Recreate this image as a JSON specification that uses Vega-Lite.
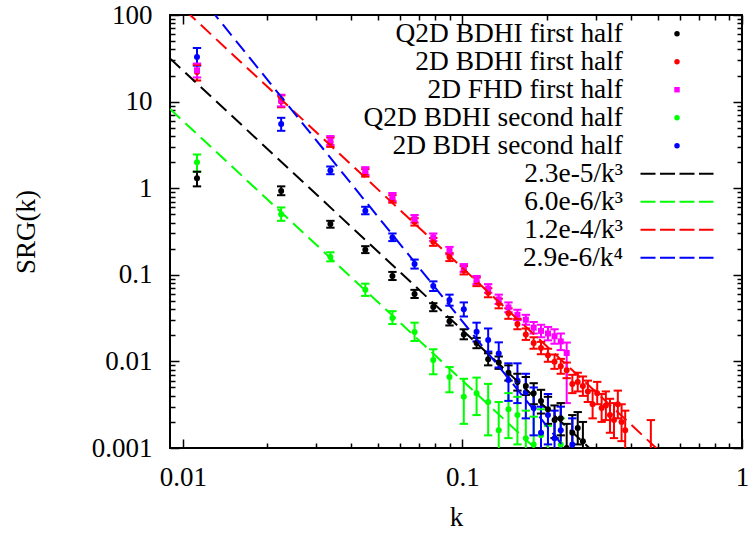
{
  "$schema": "https://vega.github.io/schema/vega-lite/v6.json",
  "width": 572,
  "height": 433,
  "autosize": "none",
  "padding": {"left": 170, "top": 15, "right": 10, "bottom": 86},
  "background": "white",
  "config": {
    "view": {"stroke": "black", "strokeWidth": 2},
    "font": "Liberation Serif",
    "axis": {
      "domain": false, "grid": false, "tickColor": "black", "tickWidth": 1.5,
      "labelFont": "Liberation Serif", "labelFontSize": 27, "labelColor": "black",
      "titleFont": "Liberation Serif", "titleFontSize": 27, "titleFontWeight": "normal", "titleColor": "black",
      "labelOverlap": false, "labelFlush": false, "labelBound": false
    }
  },
  "datasets": {
    "pts": [
      {"series":"Q2D BDHI first half","k":0.01124,"S":1.3,"lo":1.05,"hi":1.55},
      {"series":"Q2D BDHI first half","k":0.02248,"S":0.93,"lo":0.83,"hi":1.05},
      {"series":"Q2D BDHI first half","k":0.03372,"S":0.386,"lo":0.35,"hi":0.42},
      {"series":"Q2D BDHI first half","k":0.04496,"S":0.195,"lo":0.178,"hi":0.214},
      {"series":"Q2D BDHI first half","k":0.0562,"S":0.097,"lo":0.087,"hi":0.108},
      {"series":"Q2D BDHI first half","k":0.06744,"S":0.06,"lo":0.054,"hi":0.067},
      {"series":"Q2D BDHI first half","k":0.07868,"S":0.0425,"lo":0.038,"hi":0.047},
      {"series":"Q2D BDHI first half","k":0.08992,"S":0.029,"lo":0.026,"hi":0.0325},
      {"series":"Q2D BDHI first half","k":0.10116,"S":0.0205,"lo":0.018,"hi":0.0235},
      {"series":"Q2D BDHI first half","k":0.1124,"S":0.0163,"lo":0.0142,"hi":0.0187},
      {"series":"Q2D BDHI first half","k":0.12364,"S":0.0106,"lo":0.009,"hi":0.0124},
      {"series":"Q2D BDHI first half","k":0.13488,"S":0.0097,"lo":0.0082,"hi":0.0114},
      {"series":"Q2D BDHI first half","k":0.14612,"S":0.0074,"lo":0.006,"hi":0.009},
      {"series":"Q2D BDHI first half","k":0.15736,"S":0.0058,"lo":0.0046,"hi":0.0072},
      {"series":"Q2D BDHI first half","k":0.1686,"S":0.0052,"lo":0.0041,"hi":0.0066},
      {"series":"Q2D BDHI first half","k":0.17984,"S":0.0043,"lo":0.0032,"hi":0.0056},
      {"series":"Q2D BDHI first half","k":0.19108,"S":0.0035,"lo":0.0025,"hi":0.0047},
      {"series":"Q2D BDHI first half","k":0.20232,"S":0.0028,"lo":0.0019,"hi":0.0039},
      {"series":"Q2D BDHI first half","k":0.21356,"S":0.0021,"lo":0.0013,"hi":0.0031},
      {"series":"Q2D BDHI first half","k":0.2248,"S":0.0022,"lo":0.0014,"hi":0.0033},
      {"series":"Q2D BDHI first half","k":0.23604,"S":0.001,"lo":0.0005,"hi":0.0019},
      {"series":"Q2D BDHI first half","k":0.24728,"S":0.0015,"lo":0.0009,"hi":0.0024},
      {"series":"Q2D BDHI first half","k":0.25852,"S":0.0017,"lo":0.0011,"hi":0.0026},
      {"series":"Q2D BDHI first half","k":0.26976,"S":0.0012,"lo":0.0007,"hi":0.002},
      {"series":"2D BDHI first half","k":0.01124,"S":22,"lo":17.5,"hi":26.5},
      {"series":"2D BDHI first half","k":0.02248,"S":10,"lo":8.6,"hi":11.8},
      {"series":"2D BDHI first half","k":0.03372,"S":3.4,"lo":3.0,"hi":3.85},
      {"series":"2D BDHI first half","k":0.04496,"S":1.5,"lo":1.36,"hi":1.66},
      {"series":"2D BDHI first half","k":0.0562,"S":0.75,"lo":0.68,"hi":0.83},
      {"series":"2D BDHI first half","k":0.06744,"S":0.41,"lo":0.37,"hi":0.45},
      {"series":"2D BDHI first half","k":0.07868,"S":0.24,"lo":0.216,"hi":0.266},
      {"series":"2D BDHI first half","k":0.08992,"S":0.16,"lo":0.144,"hi":0.178},
      {"series":"2D BDHI first half","k":0.10116,"S":0.113,"lo":0.101,"hi":0.126},
      {"series":"2D BDHI first half","k":0.1124,"S":0.083,"lo":0.074,"hi":0.093},
      {"series":"2D BDHI first half","k":0.12364,"S":0.062,"lo":0.055,"hi":0.07},
      {"series":"2D BDHI first half","k":0.13488,"S":0.047,"lo":0.041,"hi":0.053},
      {"series":"2D BDHI first half","k":0.14612,"S":0.036,"lo":0.031,"hi":0.041},
      {"series":"2D BDHI first half","k":0.15736,"S":0.027,"lo":0.0235,"hi":0.031},
      {"series":"2D BDHI first half","k":0.1686,"S":0.0205,"lo":0.0177,"hi":0.024},
      {"series":"2D BDHI first half","k":0.17984,"S":0.0163,"lo":0.014,"hi":0.019},
      {"series":"2D BDHI first half","k":0.19108,"S":0.0143,"lo":0.0121,"hi":0.0168},
      {"series":"2D BDHI first half","k":0.20232,"S":0.0118,"lo":0.0099,"hi":0.014},
      {"series":"2D BDHI first half","k":0.21356,"S":0.0099,"lo":0.0082,"hi":0.012},
      {"series":"2D BDHI first half","k":0.2248,"S":0.0088,"lo":0.0072,"hi":0.0107},
      {"series":"2D BDHI first half","k":0.23604,"S":0.0079,"lo":0.0064,"hi":0.0097},
      {"series":"2D BDHI first half","k":0.24728,"S":0.0055,"lo":0.0043,"hi":0.007},
      {"series":"2D BDHI first half","k":0.25852,"S":0.0058,"lo":0.0045,"hi":0.0074},
      {"series":"2D BDHI first half","k":0.26976,"S":0.0052,"lo":0.004,"hi":0.0067},
      {"series":"2D BDHI first half","k":0.281,"S":0.0045,"lo":0.0034,"hi":0.006},
      {"series":"2D BDHI first half","k":0.29224,"S":0.0032,"lo":0.0022,"hi":0.0046},
      {"series":"2D BDHI first half","k":0.30348,"S":0.0043,"lo":0.0032,"hi":0.0058},
      {"series":"2D BDHI first half","k":0.31472,"S":0.0029,"lo":0.002,"hi":0.0042},
      {"series":"2D BDHI first half","k":0.32596,"S":0.0031,"lo":0.0021,"hi":0.0045},
      {"series":"2D BDHI first half","k":0.3372,"S":0.0024,"lo":0.0015,"hi":0.0037},
      {"series":"2D BDHI first half","k":0.34844,"S":0.0021,"lo":0.0013,"hi":0.0033},
      {"series":"2D BDHI first half","k":0.35968,"S":0.0032,"lo":0.0022,"hi":0.0046},
      {"series":"2D BDHI first half","k":0.37092,"S":0.002,"lo":0.0012,"hi":0.0032},
      {"series":"2D BDHI first half","k":0.38216,"S":0.0016,"lo":0.0009,"hi":0.0027},
      {"series":"2D BDHI first half","k":0.47208,"S":0.0008,"lo":0.0003,"hi":0.0021},
      {"series":"2D FHD first half","k":0.01124,"S":23,"lo":19,"hi":27.5},
      {"series":"2D FHD first half","k":0.02248,"S":10.3,"lo":8.8,"hi":12},
      {"series":"2D FHD first half","k":0.03372,"S":3.55,"lo":3.15,"hi":4.0},
      {"series":"2D FHD first half","k":0.04496,"S":1.58,"lo":1.42,"hi":1.75},
      {"series":"2D FHD first half","k":0.0562,"S":0.79,"lo":0.71,"hi":0.88},
      {"series":"2D FHD first half","k":0.06744,"S":0.44,"lo":0.4,"hi":0.49},
      {"series":"2D FHD first half","k":0.07868,"S":0.27,"lo":0.245,"hi":0.3},
      {"series":"2D FHD first half","k":0.08992,"S":0.19,"lo":0.172,"hi":0.21},
      {"series":"2D FHD first half","k":0.10116,"S":0.12,"lo":0.108,"hi":0.133},
      {"series":"2D FHD first half","k":0.1124,"S":0.087,"lo":0.078,"hi":0.097},
      {"series":"2D FHD first half","k":0.12364,"S":0.0695,"lo":0.062,"hi":0.078},
      {"series":"2D FHD first half","k":0.13488,"S":0.052,"lo":0.046,"hi":0.059},
      {"series":"2D FHD first half","k":0.14612,"S":0.042,"lo":0.037,"hi":0.048},
      {"series":"2D FHD first half","k":0.15736,"S":0.0345,"lo":0.03,"hi":0.0395},
      {"series":"2D FHD first half","k":0.1686,"S":0.0303,"lo":0.0265,"hi":0.0345},
      {"series":"2D FHD first half","k":0.17984,"S":0.0245,"lo":0.021,"hi":0.0285},
      {"series":"2D FHD first half","k":0.19108,"S":0.0225,"lo":0.019,"hi":0.0265},
      {"series":"2D FHD first half","k":0.20232,"S":0.021,"lo":0.0175,"hi":0.025},
      {"series":"2D FHD first half","k":0.21356,"S":0.0195,"lo":0.016,"hi":0.0235},
      {"series":"2D FHD first half","k":0.2248,"S":0.017,"lo":0.0135,"hi":0.021},
      {"series":"2D FHD first half","k":0.23604,"S":0.0125,"lo":0.0033,"hi":0.0165},
      {"series":"Q2D BDHI second half","k":0.01124,"S":2.0,"lo":1.55,"hi":2.45},
      {"series":"Q2D BDHI second half","k":0.02248,"S":0.5,"lo":0.42,"hi":0.6},
      {"series":"Q2D BDHI second half","k":0.03372,"S":0.161,"lo":0.143,"hi":0.182},
      {"series":"Q2D BDHI second half","k":0.04496,"S":0.067,"lo":0.057,"hi":0.079},
      {"series":"Q2D BDHI second half","k":0.0562,"S":0.0317,"lo":0.027,"hi":0.038},
      {"series":"Q2D BDHI second half","k":0.06744,"S":0.0219,"lo":0.0172,"hi":0.028},
      {"series":"Q2D BDHI second half","k":0.07868,"S":0.0104,"lo":0.0071,"hi":0.0138},
      {"series":"Q2D BDHI second half","k":0.08992,"S":0.0066,"lo":0.0044,"hi":0.0086},
      {"series":"Q2D BDHI second half","k":0.10116,"S":0.0039,"lo":0.0019,"hi":0.0063},
      {"series":"Q2D BDHI second half","k":0.1124,"S":0.0043,"lo":0.0024,"hi":0.0065},
      {"series":"Q2D BDHI second half","k":0.12364,"S":0.0034,"lo":0.0014,"hi":0.0055},
      {"series":"Q2D BDHI second half","k":0.13488,"S":0.0016,"lo":0.0006,"hi":0.0034},
      {"series":"Q2D BDHI second half","k":0.14612,"S":0.0028,"lo":0.0013,"hi":0.0043},
      {"series":"Q2D BDHI second half","k":0.15736,"S":0.0024,"lo":0.0011,"hi":0.0039},
      {"series":"Q2D BDHI second half","k":0.1686,"S":0.0013,"lo":0.0005,"hi":0.0027},
      {"series":"Q2D BDHI second half","k":0.17984,"S":0.0011,"lo":0.0004,"hi":0.0023},
      {"series":"Q2D BDHI second half","k":0.19108,"S":0.0014,"lo":0.0006,"hi":0.0028},
      {"series":"Q2D BDHI second half","k":0.20232,"S":0.0008,"lo":0.0003,"hi":0.0018},
      {"series":"Q2D BDHI second half","k":0.2248,"S":0.0011,"lo":0.0004,"hi":0.0022},
      {"series":"2D BDH second half","k":0.01124,"S":32.7,"lo":26,"hi":41.6},
      {"series":"2D BDH second half","k":0.02248,"S":5.5,"lo":4.6,"hi":6.5},
      {"series":"2D BDH second half","k":0.03372,"S":1.6,"lo":1.45,"hi":1.78},
      {"series":"2D BDH second half","k":0.04496,"S":0.55,"lo":0.5,"hi":0.61},
      {"series":"2D BDH second half","k":0.0562,"S":0.27,"lo":0.245,"hi":0.3},
      {"series":"2D BDH second half","k":0.06744,"S":0.133,"lo":0.118,"hi":0.15},
      {"series":"2D BDH second half","k":0.07868,"S":0.074,"lo":0.065,"hi":0.084},
      {"series":"2D BDH second half","k":0.08992,"S":0.051,"lo":0.044,"hi":0.059},
      {"series":"2D BDH second half","k":0.10116,"S":0.04,"lo":0.033,"hi":0.048},
      {"series":"2D BDH second half","k":0.1124,"S":0.022,"lo":0.017,"hi":0.028},
      {"series":"2D BDH second half","k":0.12364,"S":0.0177,"lo":0.013,"hi":0.024},
      {"series":"2D BDH second half","k":0.13488,"S":0.0123,"lo":0.0085,"hi":0.0166},
      {"series":"2D BDH second half","k":0.14612,"S":0.0061,"lo":0.0035,"hi":0.0095},
      {"series":"2D BDH second half","k":0.15736,"S":0.006,"lo":0.0033,"hi":0.0095},
      {"series":"2D BDH second half","k":0.1686,"S":0.0044,"lo":0.0022,"hi":0.0072},
      {"series":"2D BDH second half","k":0.17984,"S":0.0029,"lo":0.0014,"hi":0.005},
      {"series":"2D BDH second half","k":0.19108,"S":0.0015,"lo":0.0006,"hi":0.003},
      {"series":"2D BDH second half","k":0.20232,"S":0.0024,"lo":0.0011,"hi":0.0042},
      {"series":"2D BDH second half","k":0.21356,"S":0.0013,"lo":0.0005,"hi":0.0027},
      {"series":"2D BDH second half","k":0.2248,"S":0.0016,"lo":0.0007,"hi":0.003},
      {"series":"2D BDH second half","k":0.24728,"S":0.0011,"lo":0.0004,"hi":0.0022}
    ],
    "fits": [
      {"fit":"2.3e-5/k³","k":0.009,"S":31.55},{"fit":"2.3e-5/k³","k":1,"S":2.3e-5},
      {"fit":"6.0e-6/k³","k":0.009,"S":8.23},{"fit":"6.0e-6/k³","k":1,"S":6e-6},
      {"fit":"1.2e-4/k³","k":0.009,"S":164.6},{"fit":"1.2e-4/k³","k":1,"S":1.2e-4},
      {"fit":"2.9e-6/k⁴","k":0.009,"S":442},{"fit":"2.9e-6/k⁴","k":1,"S":2.9e-6}
    ]
  },
  "layer": [
    {
      "data": {"name": "pts"},
      "mark": {"type": "rule", "strokeWidth": 2, "clip": true},
      "encoding": {
        "x": {"field": "k", "type": "quantitative",
          "scale": {"type": "log", "domain": [0.009, 1], "nice": false},
          "axis": {"orient": "bottom", "title": "k", "titlePadding": 10, "labelPadding": 25,
            "values": [0.01,0.02,0.03,0.04,0.05,0.06,0.07,0.08,0.09,0.1,0.2,0.3,0.4,0.5,0.6,0.7,0.8,0.9,1],
            "labelExpr": "abs(log(datum.value)/LN10 - round(log(datum.value)/LN10)) < 0.01 ? format(datum.value, '~g') : ''",
            "tickSize": {"condition": {"test": "abs(log(datum.value)/LN10 - round(log(datum.value)/LN10)) < 0.01", "value": -9}, "value": -5}}},
        "y": {"field": "lo", "type": "quantitative",
          "scale": {"type": "log", "domain": [0.001, 100], "nice": false},
          "axis": {"orient": "left", "title": "SRG(k)", "titlePadding": 51, "labelPadding": 27,
            "values": [0.001,0.002,0.003,0.004,0.005,0.006,0.007,0.008,0.009,0.01,0.02,0.03,0.04,0.05,0.06,0.07,0.08,0.09,0.1,0.2,0.3,0.4,0.5,0.6,0.7,0.8,0.9,1,2,3,4,5,6,7,8,9,10,20,30,40,50,60,70,80,90,100],
            "labelExpr": "abs(log(datum.value)/LN10 - round(log(datum.value)/LN10)) < 0.01 ? format(datum.value, '~g') : ''",
            "tickSize": {"condition": {"test": "abs(log(datum.value)/LN10 - round(log(datum.value)/LN10)) < 0.01", "value": -9}, "value": -5}}},
        "y2": {"field": "hi"},
        "stroke": {"field": "series", "type": "nominal", "legend": null,
          "scale": {"domain": ["Q2D BDHI first half","2D BDHI first half","2D FHD first half","Q2D BDHI second half","2D BDH second half"],
                    "range": ["#000000","#ff0000","#ff00ff","#00ff00","#0000ff"]}}
      }
    },
    {
      "data": {"name": "pts"},
      "mark": {"type": "point", "shape": "stroke", "filled": false, "opacity": 1, "size": 70, "strokeWidth": 2, "clip": true},
      "encoding": {
        "x": {"field": "k", "type": "quantitative", "axis": null},
        "y": {"field": "lo", "type": "quantitative", "axis": null},
        "stroke": {"field": "series", "type": "nominal", "legend": null,
          "scale": {"domain": ["Q2D BDHI first half","2D BDHI first half","2D FHD first half","Q2D BDHI second half","2D BDH second half"],
                    "range": ["#000000","#ff0000","#ff00ff","#00ff00","#0000ff"]}}
      }
    },
    {
      "data": {"name": "pts"},
      "mark": {"type": "point", "shape": "stroke", "filled": false, "opacity": 1, "size": 70, "strokeWidth": 2, "clip": true},
      "encoding": {
        "x": {"field": "k", "type": "quantitative", "axis": null},
        "y": {"field": "hi", "type": "quantitative", "axis": null},
        "stroke": {"field": "series", "type": "nominal", "legend": null,
          "scale": {"domain": ["Q2D BDHI first half","2D BDHI first half","2D FHD first half","Q2D BDHI second half","2D BDH second half"],
                    "range": ["#000000","#ff0000","#ff00ff","#00ff00","#0000ff"]}}
      }
    },
    {
      "data": {"name": "pts"},
      "mark": {"type": "point", "filled": true, "opacity": 1, "size": 36, "clip": true},
      "encoding": {
        "x": {"field": "k", "type": "quantitative", "axis": null},
        "y": {"field": "S", "type": "quantitative", "axis": null},
        "color": {"field": "series", "type": "nominal",
          "scale": {"domain": ["Q2D BDHI first half","2D BDHI first half","2D FHD first half","Q2D BDHI second half","2D BDH second half"],
                    "range": ["#000000","#ff0000","#ff00ff","#00ff00","#0000ff"]},
          "legend": {"orient": "none", "legendX": 493.3, "legendY": 5, "title": null, "padding": 0,
            "labelAlign": "right", "labelOffset": -67.7, "labelFont": "Liberation Serif",
            "labelFontSize": 27.4, "labelColor": "black", "labelLimit": 500, "rowPadding": -3,
            "symbolSize": 30, "symbolStrokeWidth": 0}},
        "shape": {"field": "series", "type": "nominal",
          "scale": {"domain": ["Q2D BDHI first half","2D BDHI first half","2D FHD first half","Q2D BDHI second half","2D BDH second half"],
                    "range": ["circle","circle","square","circle","circle"]},
          "legend": {"orient": "none", "legendX": 493.3, "legendY": 5, "title": null, "padding": 0,
            "labelAlign": "right", "labelOffset": -67.7, "labelFont": "Liberation Serif",
            "labelFontSize": 27.4, "labelColor": "black", "labelLimit": 500, "rowPadding": -3,
            "symbolSize": 30, "symbolStrokeWidth": 0}}
      }
    },
    {
      "data": {"name": "fits"},
      "mark": {"type": "line", "strokeWidth": 2, "strokeDash": [14, 7], "clip": true},
      "encoding": {
        "x": {"field": "k", "type": "quantitative",
          "axis": {"orient": "top", "labels": false, "title": null,
            "values": [0.01,0.02,0.03,0.04,0.05,0.06,0.07,0.08,0.09,0.1,0.2,0.3,0.4,0.5,0.6,0.7,0.8,0.9,1],
            "tickSize": {"condition": {"test": "abs(log(datum.value)/LN10 - round(log(datum.value)/LN10)) < 0.01", "value": -9}, "value": -5}}},
        "y": {"field": "S", "type": "quantitative",
          "axis": {"orient": "right", "labels": false, "title": null,
            "values": [0.001,0.002,0.003,0.004,0.005,0.006,0.007,0.008,0.009,0.01,0.02,0.03,0.04,0.05,0.06,0.07,0.08,0.09,0.1,0.2,0.3,0.4,0.5,0.6,0.7,0.8,0.9,1,2,3,4,5,6,7,8,9,10,20,30,40,50,60,70,80,90,100],
            "tickSize": {"condition": {"test": "abs(log(datum.value)/LN10 - round(log(datum.value)/LN10)) < 0.01", "value": -9}, "value": -5}}},
        "stroke": {"field": "fit", "type": "nominal",
          "scale": {"domain": ["2.3e-5/k³","6.0e-6/k³","1.2e-4/k³","2.9e-6/k⁴"], "range": ["#000000","#00ff00","#ff0000","#0000ff"]},
          "legend": {"orient": "none", "legendX": 493.3, "legendY": 145, "title": null, "padding": 0,
            "labelAlign": "right", "labelOffset": -67.7, "labelFont": "Liberation Serif",
            "labelFontSize": 27.4, "labelColor": "black", "labelLimit": 500, "rowPadding": -3,
            "symbolType": "M-3.65,0H3.65", "symbolSize": 400, "symbolStrokeWidth": 2, "symbolDash": [15, 4.5]}}
      }
    }
  ],
  "resolve": {"axis": {"x": "independent", "y": "independent"}, "scale": {"stroke": "independent"}}
}
